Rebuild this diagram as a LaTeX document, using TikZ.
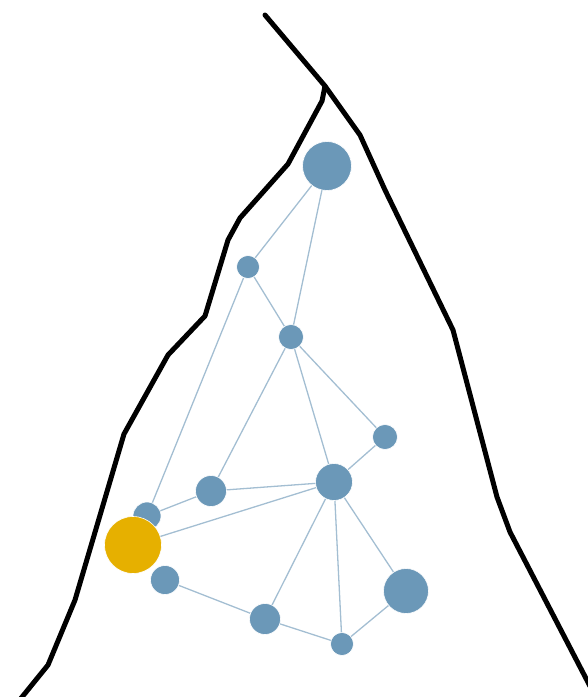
\documentclass[tikz,border=0pt]{standalone}
\usetikzlibrary{backgrounds}
\definecolor{nodeblue}{HTML}{6B98B8}
\definecolor{edgeblue}{HTML}{A3BED2}
\definecolor{gold}{HTML}{E6B000}
\begin{document}
\begin{tikzpicture}[x=1pt,y=-1pt,
  vert/.style={circle,fill=nodeblue,draw=white,line width=0.6pt,inner sep=0pt,minimum size=#1},
  hub/.style={circle,fill=gold,draw=white,line width=0.6pt,inner sep=0pt,minimum size=#1},
  link/.style={draw=edgeblue,line width=1.3pt},
  ridge/.style={draw=black,line width=5pt,line join=round,line cap=round}]
\useasboundingbox (0,0) rectangle (588,697);
% ridge lines
\coordinate (peak) at (325,86);
\coordinate (top) at (265,15);
\draw[ridge] (top) -- (peak) -- (360,135) -- (385,190) -- (453,330) -- (497,497) -- (510,532) -- (592,690);
\draw[ridge] (peak) -- (322,101) -- (288,164) -- (240,218) -- (228,240) -- (205,316) -- (168,355) -- (124,434) -- (75,600) -- (48,665) -- (18,702);
% nodes
\node[vert=49pt] (a) at (327,166) {};
\node[vert=23pt] (b) at (248,267) {};
\node[vert=25pt] (c) at (291,337) {};
\node[vert=25pt] (d) at (385,437) {};
\node[vert=37pt] (e) at (334,482) {};
\node[vert=31pt] (f) at (211,491) {};
\node[vert=28pt] (g) at (147,516) {};
\node[vert=29pt] (i) at (165,580) {};
\node[vert=31pt] (j) at (265,619) {};
\node[vert=23pt] (k) at (342,644) {};
\node[vert=45pt] (l) at (406,591) {};
\node[hub=57pt] (h) at (133,545) {};
% edges
\begin{scope}[on background layer]
\draw[link] (a.center) -- (b.center);
\draw[link] (a.center) -- (c.center);
\draw[link] (b.center) -- (c.center);
\draw[link] (b.center) -- (g.center);
\draw[link] (c.center) -- (f.center);
\draw[link] (c.center) -- (e.center);
\draw[link] (c.center) -- (d.center);
\draw[link] (d.center) -- (e.center);
\draw[link] (f.center) -- (e.center);
\draw[link] (f.center) -- (g.center);
\draw[link] (h.center) -- (e.center);
\draw[link] (e.center) -- (j.center);
\draw[link] (e.center) -- (k.center);
\draw[link] (e.center) -- (l.center);
\draw[link] (i.center) -- (j.center);
\draw[link] (j.center) -- (k.center);
\draw[link] (k.center) -- (l.center);
\end{scope}
\end{tikzpicture}
\end{document}
